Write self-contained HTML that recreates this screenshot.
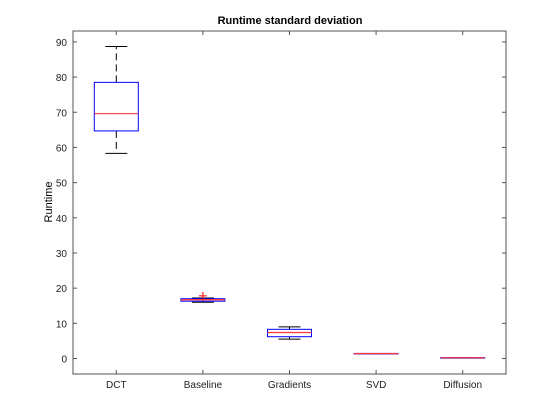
<!DOCTYPE html>
<html><head><meta charset="utf-8"><style>
body{margin:0;background:#fff;}
svg{display:block;font-family:"Liberation Sans",Arial,sans-serif;}
</style></head><body>
<svg id="chart" width="560" height="420">
<rect width="560" height="420" fill="#fff"/>
<text x="290" y="24" text-anchor="middle" font-size="11" font-weight="bold">Runtime standard deviation</text>
<text transform="translate(52,202) rotate(-90)" text-anchor="middle" font-size="11">Runtime</text>
<g id="marks"></g>
<rect x="73" y="31" width="433" height="343" fill="none" stroke="#555" stroke-width="1"/>
</svg>
<script>
const categories = ["DCT","Baseline","Gradients","SVD","Diffusion"];
const whiskerLow = [58.3,16.0,5.5,1.4,0.2];
const q1 = [64.7,16.3,6.2,1.35,0.15];
const medians = [69.6,16.7,7.4,1.4,0.2];
const q3 = [78.5,17.0,8.3,1.45,0.25];
const whiskerHigh = [88.7,17.2,9.0,1.4,0.2];
const outlierCat = [1];
const outlierVal = [17.8];
const yTicks = [0,10,20,30,40,50,60,70,80,90];

const L=73,R=506,T=31,B=374,ymin=-4.4,ymax=93.1;
const x=i=>L+(i+0.5)*(R-L)/categories.length;
const y=v=>B-(v-ymin)/(ymax-ymin)*(B-T);
const g=document.getElementById('marks');
const NS="http://www.w3.org/2000/svg";
function mk(tag,a){const e=document.createElementNS(NS,tag);for(const k in a)e.setAttribute(k,a[k]);g.appendChild(e);return e;}
yTicks.forEach(t=>{
  let e=mk('line',{x1:L,x2:L+4,y1:y(t),y2:y(t),stroke:'#555'});
  
  
  e=mk('line',{x1:R-4,x2:R,y1:y(t),y2:y(t),stroke:'#555'});
  
  
  e=mk('text',{x:L-6,y:y(t)+4,'text-anchor':'end','font-size':'10',fill:'#222'});
  e.textContent=t;
  
  
});
categories.forEach((c,i)=>{
  const cx=x(i);
  let e=mk('line',{x1:cx,x2:cx,y1:B,y2:B-4,stroke:'#555'});
  
  
  e=mk('line',{x1:cx,x2:cx,y1:T,y2:T+4,stroke:'#555'});
  
  
  e=mk('text',{x:cx,y:B+14,'text-anchor':'middle','font-size':'10',fill:'#222'});
  e.textContent=c;
  
  
  e=mk('line',{x1:cx,x2:cx,y1:y(q3[i]),y2:y(whiskerHigh[i]),stroke:'#000','stroke-dasharray':'7,4'});
  
  
  e=mk('line',{x1:cx,x2:cx,y1:y(q1[i]),y2:y(whiskerLow[i]),stroke:'#000','stroke-dasharray':'7,4'});
  
  
  e=mk('line',{x1:cx-11,x2:cx+11,y1:y(whiskerHigh[i]),y2:y(whiskerHigh[i]),stroke:'#000'});
  
  
  e=mk('line',{x1:cx-11,x2:cx+11,y1:y(whiskerLow[i]),y2:y(whiskerLow[i]),stroke:'#000'});
  
  
  e=mk('rect',{x:cx-22,y:y(q3[i]),width:44,height:Math.max(0.5,y(q1[i])-y(q3[i])),fill:'none',stroke:'#00f'});
  
  
  e=mk('line',{x1:cx-22,x2:cx+22,y1:y(medians[i]),y2:y(medians[i]),stroke:'#f33','stroke-width':'1.2'});
  
  
});
outlierCat.forEach((ci,k)=>{
  const cx=x(ci),cy=y(outlierVal[k]);
  const e=mk('path',{d:`M${cx-4},${cy}H${cx+4}M${cx},${cy-4}V${cy+4}`,stroke:'#f00'});
  
  
});
</script>
</body></html>
